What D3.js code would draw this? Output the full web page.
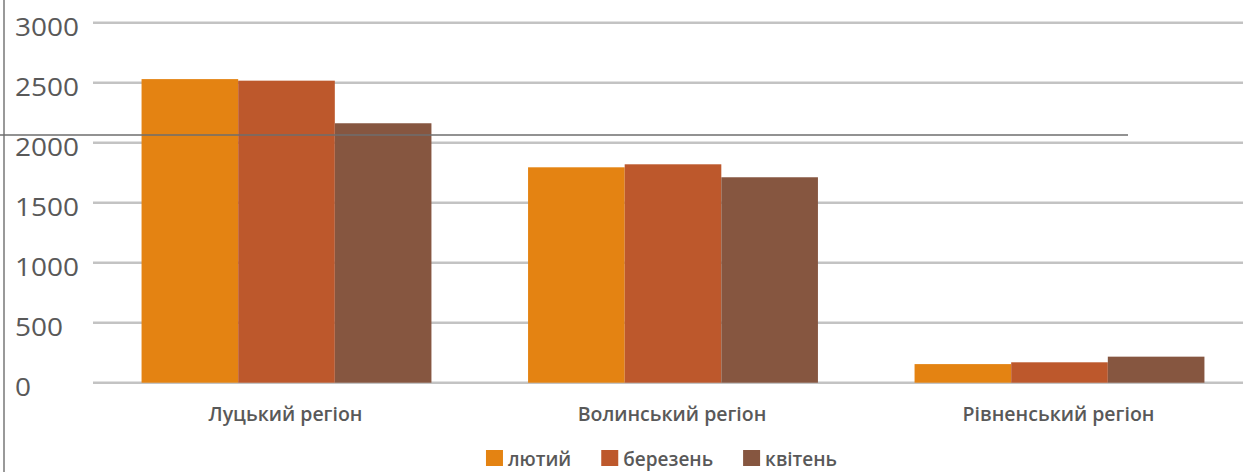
<!DOCTYPE html>
<html><head><meta charset="utf-8">
<script src="https://cdn.jsdelivr.net/npm/d3@7/dist/d3.min.js"></script>
<style>
html,body{margin:0;padding:0;background:#fff;}
svg{display:block;}
text{font-family:"Open Sans","Noto Sans",sans-serif;}
</style></head>
<body>
<svg id="c" width="1243" height="472"></svg>
<script>
const categories = ["Луцький регіон", "Волинський регіон", "Рівненський регіон"];
const seriesNames = ["лютий", "березень", "квітень"];
const lyutyi = [2530, 1795, 155];
const berezen = [2517, 1820, 170];
const kviten = [2162, 1712, 217];
const yTicks = [0, 500, 1000, 1500, 2000, 2500, 3000];
const colors = ["#E48312", "#BD582C", "#865640"];

const seriesValues = [lyutyi, berezen, kviten];
const svg = d3.select("#c");
const W = 1243, H = 472;

const x0 = d3.scaleBand().domain(categories).range([93.25, 1252.75]).paddingInner(0.25).paddingOuter(0.125);
const x1 = d3.scaleBand().domain(seriesNames).range([0, x0.bandwidth()]).padding(0);
const y = d3.scaleLinear().domain([0, 3000]).range([382.7, 22.7]);

// gridlines
svg.append("g").selectAll("line").data(yTicks).join("line")
  .attr("x1", 93).attr("x2", W)
  .attr("y1", d => y(d)).attr("y2", d => y(d))
  .attr("stroke", "#c3c3c3").attr("stroke-width", 2.6);

// y tick labels
svg.append("g").selectAll("text").data(yTicks).join("text")
  .attr("x", 15).attr("y", d => y(d) + 3)
  .attr("dominant-baseline", "central")
  .attr("font-size", 25).attr("fill", "#595959").attr("font-weight", 500)
  .attr("textLength", d => String(d).length * 16)
  .attr("lengthAdjust", "spacingAndGlyphs")
  .text(d => d);

// bars
const groups = svg.append("g").selectAll("g").data(categories).join("g")
  .attr("transform", c => `translate(${x0(c)},0)`);
groups.selectAll("rect").data((c, i) => seriesNames.map((s, j) => ({s, j, v: seriesValues[j][i]})))
  .join("rect")
  .attr("x", d => x1(d.s)).attr("width", x1.bandwidth())
  .attr("y", d => y(d.v)).attr("height", d => y(0) - y(d.v))
  .attr("fill", d => colors[d.j]);

// category labels
svg.append("g").selectAll("text").data(categories).join("text")
  .attr("x", c => x0(c) + x0.bandwidth() / 2 - 1).attr("y", 421)
  .attr("text-anchor", "middle").attr("font-size", 19.5).attr("fill", "#595959")
  .attr("font-weight", 600)
  .text(c => c);

// legend
const lg = svg.append("g");
const items = lg.selectAll("g").data(seriesNames).join("g");
items.append("rect").attr("x", 0).attr("y", 450).attr("width", 17).attr("height", 16)
  .attr("fill", (d, i) => colors[i]);
items.append("text").attr("x", 22).attr("y", 466)
  .attr("font-size", 19).attr("fill", "#595959").attr("font-weight", 600)
  .text(d => d);
const widths = [];
items.each(function() { widths.push(22 + d3.select(this).select("text").node().getComputedTextLength()); });
const gap = 30;
const total = d3.sum(widths) + gap * (widths.length - 1);
let cx = 661.5 - total / 2;
items.attr("transform", (d, i) => { const t = `translate(${cx},0)`; cx += widths[i] + gap; return t; });

// frame artifacts
svg.append("line").attr("x1", 4).attr("x2", 4).attr("y1", 0).attr("y2", H)
  .attr("stroke", "#6e6e6e").attr("stroke-width", 1.4);
svg.append("line").attr("x1", 0).attr("x2", 1128).attr("y1", 135).attr("y2", 135)
  .attr("stroke", "#6e6e6e").attr("stroke-width", 1.4);
</script>
</body></html>
